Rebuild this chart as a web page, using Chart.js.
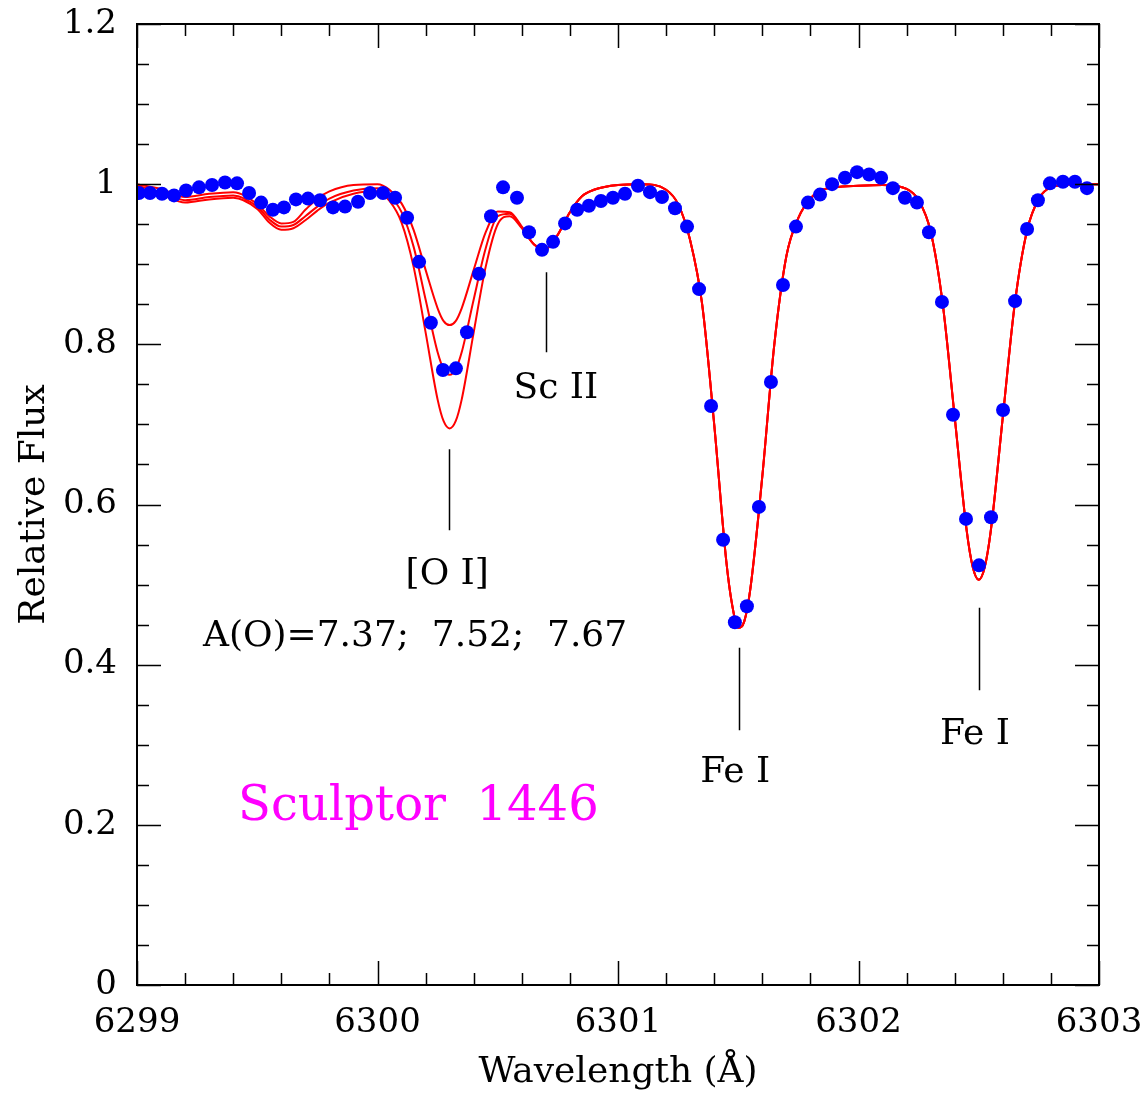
<!DOCTYPE html>
<html>
<head>
<meta charset="utf-8">
<script src="https://cdn.jsdelivr.net/npm/chart.js@4.4.1/dist/chart.umd.min.js"></script>
<style>
  html, body { margin: 0; background: #fff; }
  #wrap { width: 1148px; height: 1094px; }
</style>
</head>
<body>
<div id="wrap"><canvas id="spec" width="1148" height="1094"></canvas></div>
<script>
// Observed spectrum (blue dots)
const obsWave = [
  6299.008, 6299.054, 6299.104, 6299.154, 6299.204, 6299.258, 6299.312, 6299.366, 6299.416, 6299.466,
  6299.516, 6299.565, 6299.611, 6299.661, 6299.711, 6299.761, 6299.815, 6299.865, 6299.919, 6299.969,
  6300.023, 6300.073, 6300.123, 6300.173, 6300.222, 6300.272, 6300.326, 6300.372, 6300.422, 6300.472,
  6300.522, 6300.580, 6300.630, 6300.684, 6300.730, 6300.780, 6300.830, 6300.879, 6300.929, 6300.979,
  6301.029, 6301.083, 6301.133, 6301.183, 6301.237, 6301.287, 6301.337, 6301.387, 6301.437, 6301.486,
  6301.536, 6301.586, 6301.636, 6301.686, 6301.740, 6301.790, 6301.840, 6301.890, 6301.944, 6301.994,
  6302.044, 6302.094, 6302.143, 6302.193, 6302.243, 6302.293, 6302.347, 6302.393, 6302.447, 6302.501,
  6302.551, 6302.601, 6302.651, 6302.701, 6302.746, 6302.796, 6302.850, 6302.900, 6302.950
];
const obsFlux = [
  0.989, 0.989, 0.988, 0.986, 0.992, 0.996, 0.999, 1.002, 1.001, 0.989,
  0.977, 0.968, 0.971, 0.981, 0.982, 0.980, 0.971, 0.972, 0.978, 0.989,
  0.989, 0.983, 0.958, 0.903, 0.827, 0.768, 0.770, 0.815, 0.888, 0.960,
  0.996, 0.983, 0.940, 0.918, 0.928, 0.951, 0.968, 0.973, 0.979, 0.983,
  0.988, 0.998, 0.990, 0.984, 0.970, 0.947, 0.869, 0.723, 0.556, 0.453,
  0.473, 0.597, 0.753, 0.874, 0.947, 0.977, 0.987, 1.000, 1.008, 1.015,
  1.012, 1.008, 0.995, 0.983, 0.977, 0.940, 0.853, 0.712, 0.582, 0.524,
  0.584, 0.718, 0.854, 0.944, 0.980, 1.001, 1.003, 1.003, 0.995
];

// Synthetic spectra (red lines), A(O) = 7.37; 7.52; 7.67
const modelWave = [
  6299.00, 6299.10, 6299.20, 6299.30, 6299.40, 6299.50, 6299.55, 6299.60, 6299.65, 6299.70,
  6299.75, 6299.80, 6299.90, 6300.00, 6300.05, 6300.10, 6300.15, 6300.20, 6300.25, 6300.275,
  6300.30, 6300.325, 6300.35, 6300.40, 6300.45, 6300.50, 6300.55, 6300.60, 6300.65, 6300.70,
  6300.75, 6300.80, 6300.85, 6300.90, 6301.00, 6301.10, 6301.20, 6301.25, 6301.30, 6301.35,
  6301.40, 6301.45, 6301.475, 6301.50, 6301.525, 6301.55, 6301.60, 6301.65, 6301.70, 6301.75,
  6301.80, 6301.85, 6301.90, 6302.00, 6302.10, 6302.20, 6302.25, 6302.30, 6302.35, 6302.40,
  6302.45, 6302.475, 6302.50, 6302.525, 6302.55, 6302.60, 6302.65, 6302.70, 6302.75, 6302.80,
  6302.90, 6303.00
];
// first 30 model points differ between the three abundances
const fluxO737 = [
  1.000, 0.994, 0.984, 0.988, 0.990, 0.975, 0.960, 0.951, 0.953, 0.968,
  0.982, 0.991, 0.999, 1.000, 0.993, 0.976, 0.943, 0.893, 0.845, 0.829,
  0.824, 0.829, 0.845, 0.893, 0.940, 0.966, 0.965, 0.947, 0.925, 0.919
];
const fluxO752 = [
  0.998, 0.990, 0.980, 0.984, 0.986, 0.972, 0.956, 0.947, 0.949, 0.960,
  0.972, 0.982, 0.992, 0.995, 0.986, 0.965, 0.922, 0.856, 0.790, 0.769,
  0.762, 0.769, 0.790, 0.856, 0.920, 0.960, 0.963, 0.946, 0.925, 0.919
];
const fluxO767 = [
  0.996, 0.987, 0.977, 0.981, 0.983, 0.969, 0.952, 0.943, 0.945, 0.955,
  0.967, 0.977, 0.988, 0.991, 0.979, 0.952, 0.897, 0.815, 0.731, 0.704,
  0.695, 0.704, 0.731, 0.815, 0.897, 0.950, 0.960, 0.945, 0.925, 0.919
];
// rest of the model (Sc II wing and the two Fe I lines) is the same for all three
const fluxShared = [
  0.937, 0.965, 0.985, 0.993, 0.999, 1.000, 0.993, 0.975, 0.930, 0.850,
  0.700, 0.530, 0.474, 0.446, 0.454, 0.494, 0.635, 0.800, 0.910, 0.958,
  0.982, 0.993, 0.996, 0.998, 0.999, 0.994, 0.980, 0.941, 0.851, 0.709,
  0.567, 0.522, 0.506, 0.522, 0.567, 0.709, 0.851, 0.941, 0.982, 0.996,
  1.000, 1.000
];

const xTicks = [6299, 6300, 6301, 6302, 6303];
const yTicks = [0, 0.2, 0.4, 0.6, 0.8, 1, 1.2];
const yTickLabels = ['0', '0.2', '0.4', '0.6', '0.8', '1', '1.2'];

// line identifications: text, where the text sits, and the marker's wavelength / flux range
const idLabels = ['[O I]', 'Sc II', 'Fe I', 'Fe I'];
const idTextWave = [6300.29, 6300.742, 6301.487, 6302.484];
const idTextFlux = [0.512, 0.745, 0.265, 0.312];
const idWave = [6300.297, 6300.70, 6301.503, 6302.501];
const idTickTop = [0.669, 0.890, 0.421, 0.471];
const idTickBottom = [0.568, 0.790, 0.318, 0.368];

const SERIF = "'DejaVu Serif', 'Liberation Serif', serif";

function pairs(xs, ys) {
  return xs.map((x, i) => ({ x: x, y: ys[i] }));
}

function modelSet(label, flux) {
  return {
    label: label,
    data: pairs(modelWave, flux.concat(fluxShared)),
    showLine: true,
    borderColor: '#ff0000',
    borderWidth: 2,
    pointRadius: 0,
    fill: false,
    cubicInterpolationMode: 'monotone',
    order: 1
  };
}

// box with inward ticks on all four sides, plus the line labels
const frameTicks = {
  id: 'frameTicks',
  afterDatasetsDraw(chart) {
    const ctx = chart.ctx;
    const xs = chart.scales.x, ys = chart.scales.y;
    const a = chart.chartArea;
    ctx.save();
    ctx.strokeStyle = '#000';
    ctx.lineWidth = 2;
    ctx.strokeRect(a.left, a.top, a.right - a.left, a.bottom - a.top);

    ctx.lineWidth = 1.5;
    ctx.beginPath();
    for (let k = 0; k <= 20; k++) {
      const px = Math.round(xs.getPixelForValue(6299 + k / 5)) + 0.5;
      const len = k % 5 === 0 ? 24 : 12;
      ctx.moveTo(px, a.bottom); ctx.lineTo(px, a.bottom - len);
      ctx.moveTo(px, a.top); ctx.lineTo(px, a.top + len);
    }
    for (let k = 0; k <= 24; k++) {
      const py = Math.round(ys.getPixelForValue(k / 20)) + 0.5;
      const len = k % 4 === 0 ? 24 : 12;
      ctx.moveTo(a.left, py); ctx.lineTo(a.left + len, py);
      ctx.moveTo(a.right, py); ctx.lineTo(a.right - len, py);
    }
    ctx.stroke();

    // identification marks
    ctx.beginPath();
    idWave.forEach((w, i) => {
      const px = Math.round(xs.getPixelForValue(w)) + 0.5;
      ctx.moveTo(px, ys.getPixelForValue(idTickTop[i]));
      ctx.lineTo(px, ys.getPixelForValue(idTickBottom[i]));
    });
    ctx.stroke();

    ctx.fillStyle = '#000';
    ctx.textAlign = 'center';
    ctx.textBaseline = 'middle';
    ctx.font = '36px ' + SERIF;
    idLabels.forEach((t, i) => {
      ctx.fillText(t, xs.getPixelForValue(idTextWave[i]), ys.getPixelForValue(idTextFlux[i]));
    });
    ctx.fillText('A(O)=7.37;  7.52;  7.67', xs.getPixelForValue(6300.156), ys.getPixelForValue(0.435));

    ctx.fillStyle = '#ff00ff';
    ctx.font = '48px ' + SERIF;
    ctx.fillText('Sculptor  1446', xs.getPixelForValue(6300.17), ys.getPixelForValue(0.221));
    ctx.restore();
  }
};

const ctx = document.getElementById('spec').getContext('2d');
new Chart(ctx, {
  type: 'scatter',
  data: {
    datasets: [
      {
        label: 'Observed',
        data: pairs(obsWave, obsFlux),
        backgroundColor: '#0000ff',
        borderColor: '#0000ff',
        borderWidth: 0,
        pointRadius: 7,
        pointHoverRadius: 7,
        order: 0
      },
      modelSet('A(O)=7.37', fluxO737),
      modelSet('A(O)=7.52', fluxO752),
      modelSet('A(O)=7.67', fluxO767)
    ]
  },
  options: {
    responsive: false,
    animation: false,
    devicePixelRatio: 1,
    layout: { padding: { top: 24, right: 49, left: 0, bottom: 0 } },
    plugins: {
      legend: { display: false },
      tooltip: { enabled: false }
    },
    scales: {
      x: {
        type: 'linear',
        min: 6299,
        max: 6303,
        grid: { display: false, drawTicks: false },
        border: { display: false },
        afterBuildTicks: s => { s.ticks = xTicks.map(v => ({ value: v })); },
        afterFit: s => { s.height = 109; s.paddingLeft = 0; s.paddingRight = 0; },
        ticks: {
          color: '#000',
          padding: 18,
          font: { family: SERIF, size: 34 },
          maxRotation: 0,
          callback: v => String(v)
        },
        title: {
          display: true,
          text: 'Wavelength (Å)',
          color: '#000',
          font: { family: SERIF, size: 36 },
          padding: { top: 0, bottom: 0 }
        }
      },
      y: {
        type: 'linear',
        min: 0,
        max: 1.2,
        grid: { display: false, drawTicks: false },
        border: { display: false },
        afterBuildTicks: s => { s.ticks = yTicks.map(v => ({ value: v })); },
        afterFit: s => { s.width = 137; s.paddingTop = 0; s.paddingBottom = 0; },
        ticks: {
          color: '#000',
          padding: 20,
          font: { family: SERIF, size: 34 },
          callback: (v, i) => yTickLabels[i]
        },
        title: {
          display: true,
          text: 'Relative Flux',
          color: '#000',
          font: { family: SERIF, size: 36 },
          padding: { top: 13, bottom: 0 }
        }
      }
    }
  },
  plugins: [frameTicks]
});
</script>
</body>
</html>
